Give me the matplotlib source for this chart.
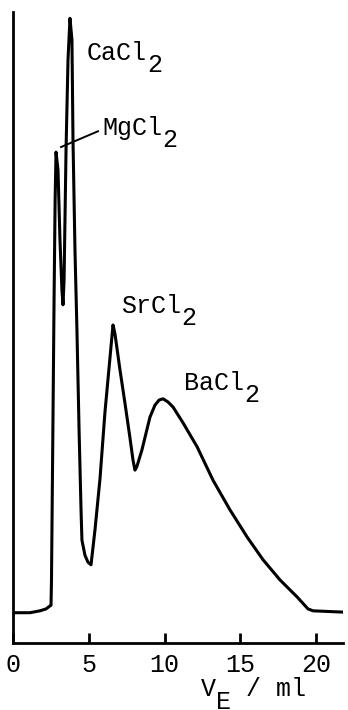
import matplotlib
matplotlib.use('Agg')
import matplotlib.pyplot as plt

# elution volume (ml) and detector signal (arb. units)
ve = [0.0, 1.12, 1.78, 2.18, 2.51, 2.54, 2.62, 2.71, 2.78, 2.84,
      2.97, 3.10, 3.23, 3.30, 3.37, 3.50, 3.63, 3.76, 3.89, 3.96,
      4.09, 4.22, 4.36, 4.49, 4.55, 4.75, 4.95, 5.15, 5.41, 5.74,
      6.07, 6.40, 6.60, 6.73, 7.06, 7.39, 7.72, 7.92, 8.05, 8.18,
      8.51, 9.04, 9.37, 9.64, 9.90, 10.23, 10.56, 11.22, 12.15, 13.20,
      14.32, 15.45, 16.50, 17.62, 18.75, 19.47, 19.80, 21.72]
signal = [0.48, 0.48, 0.51, 0.54, 0.60, 1.00, 3.06, 5.44, 7.02, 7.78,
          7.50, 6.39, 5.59, 5.36, 5.75, 7.81, 9.24, 9.90, 9.56, 7.97,
          6.23, 4.96, 3.38, 2.11, 1.63, 1.39, 1.28, 1.24, 1.79, 2.60,
          3.66, 4.52, 5.04, 4.90, 4.33, 3.80, 3.25, 2.90, 2.74, 2.80,
          3.06, 3.58, 3.77, 3.85, 3.87, 3.82, 3.74, 3.49, 3.11, 2.58,
          2.11, 1.68, 1.32, 1.00, 0.73, 0.54, 0.51, 0.49]

salts = ['CaCl', 'MgCl', 'SrCl', 'BaCl']
label_x = [4.88, 5.87, 7.13, 11.29]
label_y = [9.24, 8.05, 5.23, 4.01]
xticks = [0, 5, 10, 15, 20]

plt.rcParams['font.family'] = ['Liberation Mono', 'DejaVu Sans Mono']
fs = 18
charw = 0.6 * fs

fig = plt.figure(figsize=(3.48, 7.10), dpi=100)
ax = fig.add_axes([13/348, 67/710, 330/348, 631/710])
ax.plot(ve, signal, color='black', lw=2.2, solid_joinstyle='round')

ax.set_xlim(0, 21.78)
ax.set_ylim(0, 10.0)
for s in ['top', 'right']:
    ax.spines[s].set_visible(False)
for s in ['left', 'bottom']:
    ax.spines[s].set_linewidth(2.0)
ax.set_yticks([])
ax.set_xticks(xticks)
ax.set_xticklabels([str(t) for t in xticks], fontsize=fs)
ax.tick_params(axis='x', direction='in', length=7, width=2, pad=7)

# salt labels with full-size lowered subscript
for name, x, y in zip(salts, label_x, label_y):
    ax.text(x, y, name, fontsize=fs, ha='left', va='baseline')
    ax.annotate('2', xy=(x, y), xytext=(len(name) * charw, -8.6),
                textcoords='offset points', fontsize=fs,
                ha='left', va='baseline')

# leader line for the MgCl2 peak
ax.plot([3.17, 5.61], [7.86, 8.11], color='black', lw=1.4)

# axis title V_E / ml
ax.text(12.41, -0.84, 'V  / ml', fontsize=fs, ha='left', va='baseline',
        clip_on=False)
ax.annotate('E', xy=(12.41, -0.84), xytext=(charw, -9.5),
            textcoords='offset points', fontsize=fs, ha='left',
            va='baseline', annotation_clip=False)

fig.savefig('out.png', dpi=100)
